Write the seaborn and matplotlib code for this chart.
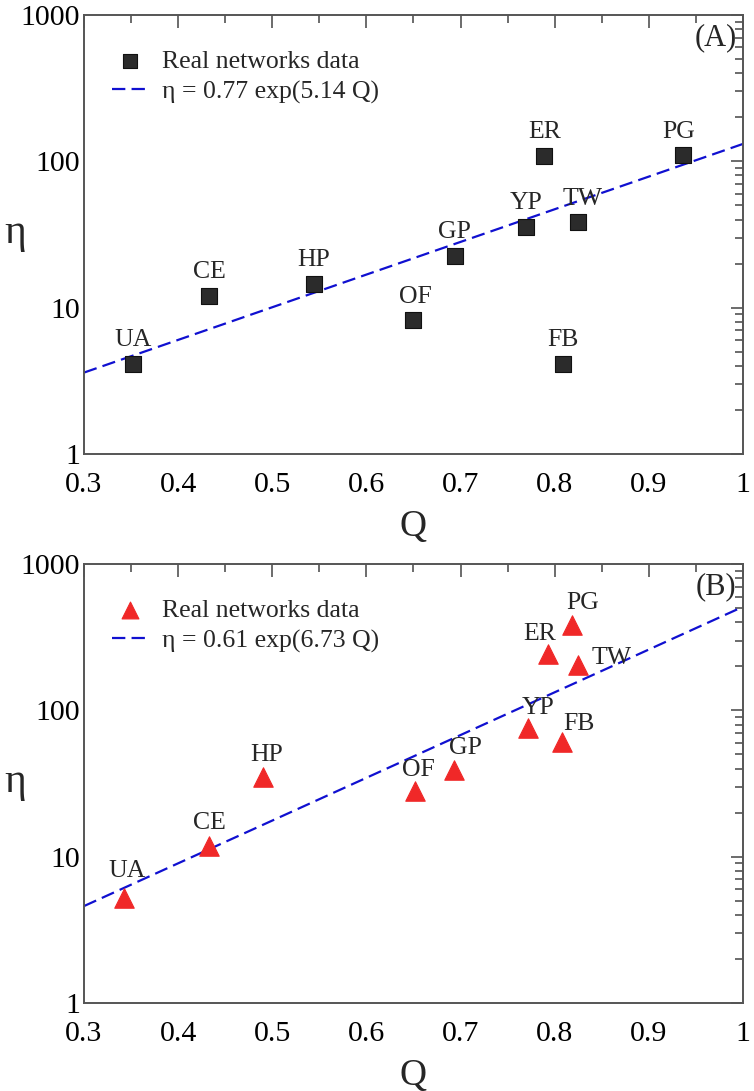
import numpy as np
import pandas as pd
import matplotlib
matplotlib.use("Agg")
import matplotlib.pyplot as plt
import seaborn as sns
from matplotlib.ticker import FixedLocator, LogLocator, NullFormatter, FixedFormatter

# ---------------- data ----------------
names = ["UA", "CE", "HP", "OF", "GP", "YP", "ER", "TW", "FB", "PG"]
q_a = [0.352, 0.433, 0.544, 0.649, 0.694, 0.770, 0.789, 0.825, 0.809, 0.936]
eta_a = [4.1, 12.0, 14.6, 8.25, 22.7, 35.8, 108.0, 38.4, 4.15, 111.0]
q_b = [0.343, 0.433, 0.490, 0.652, 0.693, 0.772, 0.793, 0.825, 0.808, 0.818]
eta_b = [5.2, 11.8, 35.3, 28.0, 39.0, 75.3, 243.0, 203.0, 61.0, 383.0]
fit_a = (0.77, 5.14)
fit_b = (0.61, 6.73)
fit_q = [0.3, 1.0]
x_ticks = [0.3, 0.4, 0.5, 0.6, 0.7, 0.8, 0.9, 1.0]
x_tick_labels = ["0.3", "0.4", "0.5", "0.6", "0.7", "0.8", "0.9", "1"]
y_ticks = [1, 10, 100, 1000]
y_tick_labels = ["1", "10", "100", "1000"]
panel_tags = ["(A)", "(B)"]
data_label = "Real networks data"

# label offsets (pixels) relative to the marker
off_a = {n: (0, 24) for n in names}
off_a.update({"PG": (-4, 23), "TW": (4, 23), "OF": (3, 23)})
off_b = {"UA": (3, 27), "CE": (0, 23), "HP": (4, 22), "OF": (3, 21), "GP": (11, 22),
         "YP": (10, 20), "FB": (17, 18), "PG": (11, 22), "ER": (-8, 20), "TW": (33, 7)}

sns.set_style("white")
plt.rcParams["font.family"] = ["Liberation Serif", "DejaVu Serif"]

fig = plt.figure(figsize=(7.54, 10.91), dpi=100)
ax_a = fig.add_axes([0.1114, 0.5839, 0.874, 0.4024])
ax_b = fig.add_axes([0.1114, 0.0807, 0.874, 0.4023])

panels = [
    (ax_a, q_a, eta_a, fit_a, "s", "#2b2b2b", "#111111", 12, off_a),
    (ax_b, q_b, eta_b, fit_b, "^", "#f02828", "#f02828", 14, off_b),
]

for i, (ax, q, eta, fit, mk, fc, ec, ms, offs) in enumerate(panels):
    df = pd.DataFrame({"Q": q, "eta": eta, "name": names})
    fq = np.array(fit_q)
    fdf = pd.DataFrame({"Q": fq, "eta": fit[0] * np.exp(fit[1] * fq)})
    sns.scatterplot(data=df, x="Q", y="eta", ax=ax, marker=mk, s=ms ** 2,
                    color=fc, edgecolor=ec, linewidth=0.8, label=data_label, zorder=3)
    sns.lineplot(data=fdf, x="Q", y="eta", ax=ax, color="#1010d0", lw=1.6,
                 label=f"η = {fit[0]:.2f} exp({fit[1]:.2f} Q)", zorder=2)
    ax.lines[-1].set_dashes((6.0, 2.8))
    for n, x, y in zip(names, q, eta):
        dx, dy = offs[n]
        ax.annotate(n, (x, y), xytext=(dx, dy), textcoords="offset pixels",
                    ha="center", va="center", fontsize=18.5, zorder=4)
    ax.set_yscale("log")
    ax.set_xlim(0.3, 1.0)
    ax.set_ylim(1, 1000)
    ax.xaxis.set_major_locator(FixedLocator(x_ticks))
    ax.xaxis.set_major_formatter(FixedFormatter(x_tick_labels))
    ax.xaxis.set_minor_locator(FixedLocator([t + 0.05 for t in x_ticks[:-1]]))
    ax.yaxis.set_major_locator(FixedLocator(y_ticks))
    ax.yaxis.set_major_formatter(FixedFormatter(y_tick_labels))
    ax.yaxis.set_minor_locator(LogLocator(base=10, subs=np.arange(2, 10)))
    ax.yaxis.set_minor_formatter(NullFormatter())
    ax.tick_params(which="both", direction="in", top=True, right=True, colors="#444444",
                   labelcolor="black", labelsize=21.5, width=1.1)
    ax.tick_params(which="major", length=9)
    ax.tick_params(axis="x", which="major", pad=13)
    ax.tick_params(axis="y", which="major", pad=3)
    ax.tick_params(which="minor", length=5.5)
    for sp in ax.spines.values():
        sp.set_color("#555555")
        sp.set_linewidth(1.4)
    ax.set_xlabel("Q", fontsize=27, va="center")
    ax.xaxis.set_label_coords(0.5, -0.165)
    ax.set_ylabel("η", fontsize=30, rotation=0, va="center", ha="center")
    ax.yaxis.set_label_coords(-0.105, 0.505)
    ax.text(0.99, 0.948, panel_tags[i], transform=ax.transAxes, ha="right", va="center", fontsize=22)
    leg = ax.legend(loc="upper left", frameon=False, fontsize=18.5, handlelength=1.45,
                    handletextpad=0.5, borderaxespad=0.3, labelspacing=0.3,
                    bbox_to_anchor=(0.015, 0.962))
    for h in leg.legend_handles:
        if hasattr(h, "set_sizes"):
            h.set_sizes([ms ** 2 * 0.75])

fig.savefig("out.png", dpi=100)
